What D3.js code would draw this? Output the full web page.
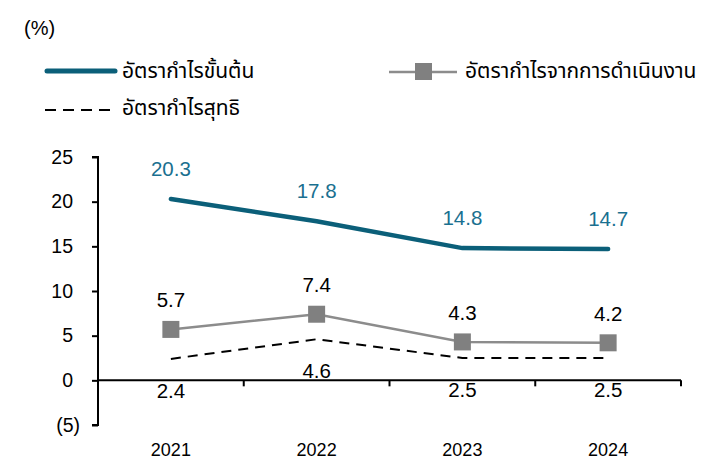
<!DOCTYPE html>
<html><head><meta charset="utf-8">
<script src="https://cdn.jsdelivr.net/npm/d3@7"></script>
<style>body{margin:0;background:#fff}</style>
</head><body>
<svg id="c" width="719" height="459"></svg>
<script>
const years = ["2021","2022","2023","2024"];
const grossMargin = [20.3, 17.8, 14.8, 14.7];
const operatingMargin = [5.7, 7.4, 4.3, 4.2];
const netMargin = [2.4, 4.6, 2.5, 2.5];
const yTicks = [-5, 0, 5, 10, 15, 20, 25];
const seriesNames = ["อัตรากำไรขั้นต้น", "อัตรากำไรจากการดำเนินงาน", "อัตรากำไรสุทธิ"];

const svg = d3.select("#c");
const numFont = "Liberation Sans, Arial, sans-serif";
const thaiFont = "'Noto Sans Thai', 'Leelawadee UI', Tahoma, 'Noto Sans', 'DejaVu Sans', sans-serif";

const x = d3.scaleBand().domain(years).range([98, 681]);
const y = d3.scaleLinear().domain([-5, 25]).range([425, 157]);
const cx = d => x(d) + x.bandwidth()/2;

// y axis
const yAxis = svg.append("g").attr("transform","translate(98,0)")
  .call(d3.axisLeft(y).tickValues(yTicks).tickSize(6).tickPadding(10)
    .tickFormat(v => v < 0 ? `(${-v})` : v));
yAxis.select(".domain").attr("stroke","#000").attr("stroke-width",2).attr("d","M-6,157H0V425H-6");
yAxis.selectAll(".tick line").attr("stroke","#000").attr("stroke-width",2);
yAxis.selectAll(".tick text").attr("font-family",numFont).attr("font-size",19.5).attr("fill","#000")
  .attr("x", v => v < 0 ? -18 : -25).attr("text-anchor","end");

// x axis at zero
const xAxis = svg.append("g").attr("transform",`translate(0,${y(0)})`)
  .call(d3.axisBottom(x).tickSize(0).tickFormat(""));
xAxis.select(".domain").attr("stroke","#000").attr("stroke-width",2).attr("d","M98,0H681");
const bounds = years.map(d => x(d) + x.bandwidth()).concat([x(years[0])]);
xAxis.selectAll(".bt").data(bounds).enter().append("line")
  .attr("x1",d=>d).attr("x2",d=>d).attr("y1",0).attr("y2",6)
  .attr("stroke","#000").attr("stroke-width",2);
// year labels
svg.append("g").selectAll("text").data(years).enter().append("text")
  .attr("x", d => cx(d)).attr("y", 456).attr("text-anchor","middle")
  .attr("font-family",numFont).attr("font-size",18).text(d => d);

const line = d3.line().x((d,i)=>cx(years[i])).y(d=>y(d));

// net margin dashed
svg.append("path").datum(netMargin).attr("d",line).attr("fill","none")
  .attr("stroke","#000").attr("stroke-width",2).attr("stroke-dasharray","10,7");
// operating
svg.append("path").datum(operatingMargin).attr("d",line).attr("fill","none")
  .attr("stroke","#8c8c8c").attr("stroke-width",2.5);
svg.append("g").selectAll("rect").data(operatingMargin).enter().append("rect")
  .attr("x",(d,i)=>cx(years[i])-8.5).attr("y",d=>y(d)-8.5).attr("width",17).attr("height",17)
  .attr("fill","#808080");
// gross
svg.append("path").datum(grossMargin).attr("d",line).attr("fill","none")
  .attr("stroke","#0b5f79").attr("stroke-width",4.5).attr("stroke-linecap","round");

// labels
function labels(data, dy, color){
  svg.append("g").selectAll("text").data(data).enter().append("text")
    .attr("x",(d,i)=>cx(years[i])).attr("y",d=>y(d)+dy).attr("text-anchor","middle")
    .attr("font-family",numFont).attr("font-size",20.5).attr("fill",color)
    .text(d=>d.toFixed(1));
}
labels(grossMargin, -23, "#1a7090");
labels(operatingMargin, -22, "#000");
labels(netMargin, 39, "#000");

// unit label
svg.append("text").attr("x",24).attr("y",35).attr("font-family",numFont).attr("font-size",20).text("(%)");

// legend
const lg = svg.append("g");
lg.append("line").attr("x1",47).attr("x2",115).attr("y1",71).attr("y2",71)
  .attr("stroke","#0b5f79").attr("stroke-width",5).attr("stroke-linecap","round");
lg.append("text").attr("x",122).attr("y",78).attr("font-family",thaiFont).attr("font-size",21).text(seriesNames[0]);
lg.append("line").attr("x1",389).attr("x2",457).attr("y1",72).attr("y2",72)
  .attr("stroke","#8c8c8c").attr("stroke-width",2.5);
lg.append("rect").attr("x",415).attr("y",63).attr("width",17).attr("height",17).attr("fill","#808080");
lg.append("text").attr("x",465).attr("y",78).attr("font-family",thaiFont).attr("font-size",21).text(seriesNames[1]);
lg.append("line").attr("x1",45).attr("x2",110).attr("y1",110).attr("y2",110)
  .attr("stroke","#000").attr("stroke-width",2).attr("stroke-dasharray","11,7");
lg.append("text").attr("x",122).attr("y",115).attr("font-family",thaiFont).attr("font-size",21).text(seriesNames[2]);
</script>
</body></html>
